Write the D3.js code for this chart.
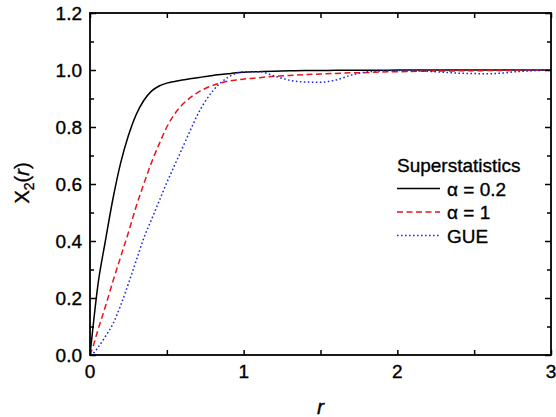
<!DOCTYPE html>
<html>
<head>
<meta charset="utf-8">
<script src="https://cdn.jsdelivr.net/npm/d3@7"></script>
<style>
  body { margin: 0; background: #fff; }
  text { font-family: Arial, "Liberation Sans", sans-serif; fill: #000; stroke: #000; stroke-width: 0.35px; }
</style>
</head>
<body>
<div id="chart"></div>
<script>
// r values shared by all three curves
var r_values = [0, 0.02, 0.05, 0.1, 0.15, 0.2, 0.25, 0.3, 0.35, 0.4, 0.45, 0.5, 0.55, 0.6, 0.65, 0.7,
  0.75, 0.8, 0.85, 0.9, 0.95, 1.0, 1.1, 1.2, 1.3, 1.4, 1.5, 1.6, 1.7, 1.8, 1.9, 2.0, 2.2, 2.4, 2.6, 2.8, 3.0]

var alpha02 = [0, 0.10, 0.24, 0.40, 0.55, 0.675, 0.77, 0.843, 0.893, 0.926, 0.944, 0.954, 0.960, 0.965, 0.969, 0.973,
  0.977, 0.981, 0.984, 0.987, 0.990, 0.992, 0.994, 0.996, 0.997, 0.998, 0.998, 0.999, 0.999, 0.999, 0.999, 1.0, 1.0, 1.0, 1.0, 1.0, 1.0]

var alpha1 = [0, 0.03, 0.085, 0.17, 0.26, 0.345, 0.43, 0.52, 0.60, 0.675, 0.74, 0.80, 0.845, 0.878, 0.902, 0.921,
  0.935, 0.946, 0.954, 0.961, 0.965, 0.968, 0.973, 0.978, 0.981, 0.984, 0.986, 0.988, 0.990, 0.991, 0.993, 0.994, 0.996, 0.997, 0.998, 0.999, 1.0]

var gue = [0, 0.005, 0.025, 0.065, 0.11, 0.175, 0.25, 0.33, 0.41, 0.475, 0.54, 0.605, 0.665, 0.725, 0.785, 0.843,
  0.89, 0.927, 0.955, 0.975, 0.988, 0.994, 0.994, 0.979, 0.964, 0.958, 0.957, 0.965, 0.982, 0.993, 0.997, 0.998, 0.995, 0.989, 0.987, 0.995, 1.0]

var series_names = ["\u03b1 = 0.2", "\u03b1 = 1", "GUE"]
var legend_title = "Superstatistics"
var x_ticks = [0, 1, 2, 3]
var x_minor = [0.5, 1.5, 2.5]
var y_ticks = [0, 0.2, 0.4, 0.6, 0.8, 1.0, 1.2]
var y_minor = [0.1, 0.3, 0.5, 0.7, 0.9, 1.1]

var width = 556, height = 417
var margin = {top: 13, right: 5, bottom: 62, left: 90}

var series = [
  {name: series_names[0], values: alpha02, color: "#000000", dash: null},
  {name: series_names[1], values: alpha1, color: "#e8141b", dash: "6,3.5"},
  {name: series_names[2], values: gue, color: "#1f24e6", dash: "1.6,2.4"}
]

var x_scale = d3.scaleLinear()
    .domain([0, 3])
    .range([margin.left, width - margin.right])

var y_scale = d3.scaleLinear()
    .domain([0, 1.2])
    .range([height - margin.bottom, margin.top])

var svg = d3.select("#chart").append("svg")
    .attr("width", width)
    .attr("height", height)

var plot_line = d3.line()
    .x(function(d) { return x_scale(d[0]) })
    .y(function(d) { return y_scale(d[1]) })
    .curve(d3.curveMonotoneX)

svg.append("clipPath").attr("id", "clip")
  .append("rect")
    .attr("x", margin.left).attr("y", margin.top)
    .attr("width", width - margin.left - margin.right)
    .attr("height", height - margin.top - margin.bottom)

svg.append("g").attr("clip-path", "url(#clip)")
  .selectAll(".curve")
  .data(series).enter()
  .append("path")
    .attr("class", "curve")
    .attr("d", function(s) { return plot_line(r_values.map(function(r, i) { return [r, s.values[i]] })) })
    .style("fill", "none")
    .style("stroke", function(s) { return s.color })
    .style("stroke-width", 1.5)
    .style("stroke-dasharray", function(s) { return s.dash })

// axes with inward ticks on all four sides
function tick_axis(axis_fn, scale, vals, size, transform) {
  svg.append("g")
    .attr("transform", transform)
    .call(axis_fn(scale).tickValues(vals).tickSize(size).tickFormat(""))
    .call(function(g) { g.select(".domain").remove() })
    .selectAll("line").style("stroke", "#000").style("stroke-width", 1.5)
}
var x0 = margin.left, x1 = width - margin.right
var y0 = height - margin.bottom, y1 = margin.top

tick_axis(d3.axisTop, x_scale, x_ticks.concat(x_minor), 5, "translate(0," + y0 + ")")
tick_axis(d3.axisBottom, x_scale, x_ticks.concat(x_minor), 5, "translate(0," + y1 + ")")
tick_axis(d3.axisRight, y_scale, y_ticks, 6, "translate(" + x0 + ",0)")
tick_axis(d3.axisRight, y_scale, y_minor, 4, "translate(" + x0 + ",0)")
tick_axis(d3.axisLeft, y_scale, y_ticks, 6, "translate(" + x1 + ",0)")
tick_axis(d3.axisLeft, y_scale, y_minor, 4, "translate(" + x1 + ",0)")

svg.append("rect")
    .attr("x", x0).attr("y", y1)
    .attr("width", x1 - x0).attr("height", y0 - y1)
    .style("fill", "none")
    .style("stroke", "#000")
    .style("stroke-width", 1.8)

// tick labels
svg.selectAll(".xlab")
  .data(x_ticks).enter()
  .append("text")
    .attr("x", function(d) { return x_scale(d) })
    .attr("y", y0 + 23)
    .attr("text-anchor", "middle")
    .style("font-size", "19px")
    .text(function(d) { return d })

svg.selectAll(".ylab")
  .data(y_ticks).enter()
  .append("text")
    .attr("x", x0 - 8)
    .attr("y", function(d) { return y_scale(d) + 7 })
    .attr("text-anchor", "end")
    .style("font-size", "19px")
    .text(function(d) { return d.toFixed(1) })

// axis titles
svg.append("text")
    .attr("x", (x0 + x1) / 2)
    .attr("y", 414)
    .attr("text-anchor", "middle")
    .style("font-size", "21px")
    .style("font-style", "italic")
    .text("r")

var ylabel = svg.append("text")
    .attr("transform", "translate(29,183) rotate(-90)")
    .attr("text-anchor", "middle")
    .style("font-size", "20px")
ylabel.append("tspan").text("X")
ylabel.append("tspan").attr("dy", 5).style("font-size", "14px").text("2")
ylabel.append("tspan").attr("dy", -5).text("(")
ylabel.append("tspan").style("font-style", "italic").text("r")
ylabel.append("tspan").text(")")

// legend
var leg_x = 397, leg_y = 172
svg.append("text")
    .attr("x", leg_x)
    .attr("y", leg_y)
    .style("font-size", "19px")
    .text(legend_title)

var leg_rows = svg.selectAll(".leg")
  .data(series).enter()
  .append("g")
    .attr("transform", function(d, i) { return "translate(" + leg_x + "," + (leg_y + 23.5 * (i + 1)) + ")" })

leg_rows.append("line")
    .attr("x1", 0).attr("x2", 43)
    .attr("y1", -7).attr("y2", -7)
    .style("stroke", function(s) { return s.color })
    .style("stroke-width", 1.5)
    .style("stroke-dasharray", function(s) { return s.dash })

leg_rows.append("text")
    .attr("x", 50)
    .attr("y", 0)
    .style("font-size", "19px")
    .text(function(s) { return s.name })
</script>
</body>
</html>
